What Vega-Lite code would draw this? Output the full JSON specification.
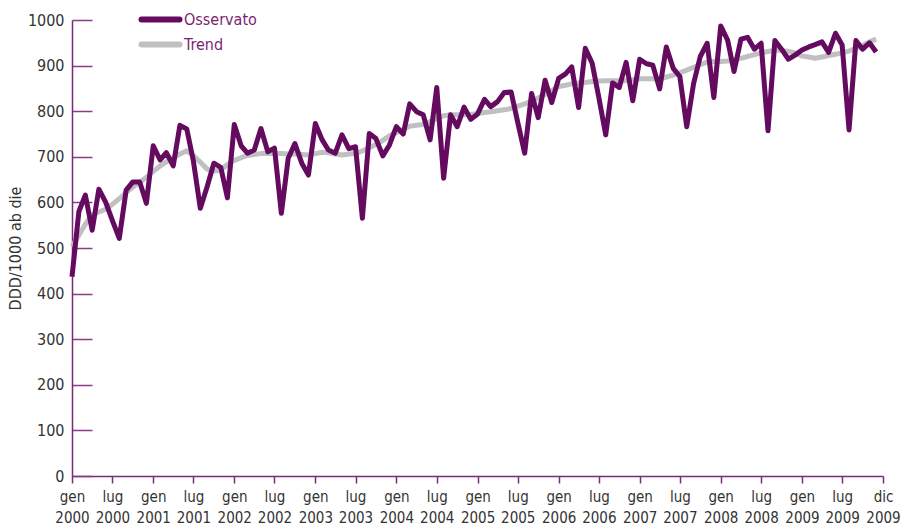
{
  "$schema": "https://vega.github.io/schema/vega-lite/v6.json",
  "autosize": {"type": "none"},
  "padding": {"left": 72, "top": 20, "right": 19, "bottom": 51},
  "width": 811,
  "height": 456,
  "background": "white",
  "config": {
    "view": {"stroke": null},
    "font": "DejaVu Sans Condensed"
  },
  "data": {
    "values": [
      {"mese": "2000-01", "Osservato": 437, "Trend": 503},
      {"mese": "2000-02", "Osservato": 580, "Trend": 528},
      {"mese": "2000-03", "Osservato": 616, "Trend": 552},
      {"mese": "2000-04", "Osservato": 539, "Trend": 573},
      {"mese": "2000-05", "Osservato": 629, "Trend": 579},
      {"mese": "2000-06", "Osservato": 600, "Trend": 585},
      {"mese": "2000-07", "Osservato": 560, "Trend": 596},
      {"mese": "2000-08", "Osservato": 521, "Trend": 608},
      {"mese": "2000-09", "Osservato": 627, "Trend": 622},
      {"mese": "2000-10", "Osservato": 645, "Trend": 633},
      {"mese": "2000-11", "Osservato": 645, "Trend": 644},
      {"mese": "2000-12", "Osservato": 598, "Trend": 655},
      {"mese": "2001-01", "Osservato": 724, "Trend": 668},
      {"mese": "2001-02", "Osservato": 693, "Trend": 680},
      {"mese": "2001-03", "Osservato": 709, "Trend": 689},
      {"mese": "2001-04", "Osservato": 680, "Trend": 698},
      {"mese": "2001-05", "Osservato": 769, "Trend": 706},
      {"mese": "2001-06", "Osservato": 761, "Trend": 713},
      {"mese": "2001-07", "Osservato": 690, "Trend": 703},
      {"mese": "2001-08", "Osservato": 587, "Trend": 688},
      {"mese": "2001-09", "Osservato": 635, "Trend": 673},
      {"mese": "2001-10", "Osservato": 686, "Trend": 669},
      {"mese": "2001-11", "Osservato": 677, "Trend": 671},
      {"mese": "2001-12", "Osservato": 610, "Trend": 683},
      {"mese": "2002-01", "Osservato": 771, "Trend": 692},
      {"mese": "2002-02", "Osservato": 724, "Trend": 698},
      {"mese": "2002-03", "Osservato": 708, "Trend": 703},
      {"mese": "2002-04", "Osservato": 715, "Trend": 705},
      {"mese": "2002-05", "Osservato": 762, "Trend": 707},
      {"mese": "2002-06", "Osservato": 711, "Trend": 708},
      {"mese": "2002-07", "Osservato": 719, "Trend": 707},
      {"mese": "2002-08", "Osservato": 576, "Trend": 707},
      {"mese": "2002-09", "Osservato": 697, "Trend": 706},
      {"mese": "2002-10", "Osservato": 729, "Trend": 706},
      {"mese": "2002-11", "Osservato": 686, "Trend": 705},
      {"mese": "2002-12", "Osservato": 660, "Trend": 704},
      {"mese": "2003-01", "Osservato": 773, "Trend": 707},
      {"mese": "2003-02", "Osservato": 737, "Trend": 710},
      {"mese": "2003-03", "Osservato": 715, "Trend": 709},
      {"mese": "2003-04", "Osservato": 708, "Trend": 706},
      {"mese": "2003-05", "Osservato": 748, "Trend": 704},
      {"mese": "2003-06", "Osservato": 718, "Trend": 706},
      {"mese": "2003-07", "Osservato": 722, "Trend": 707},
      {"mese": "2003-08", "Osservato": 565, "Trend": 713},
      {"mese": "2003-09", "Osservato": 751, "Trend": 720},
      {"mese": "2003-10", "Osservato": 740, "Trend": 727},
      {"mese": "2003-11", "Osservato": 702, "Trend": 736},
      {"mese": "2003-12", "Osservato": 726, "Trend": 746},
      {"mese": "2004-01", "Osservato": 766, "Trend": 753},
      {"mese": "2004-02", "Osservato": 750, "Trend": 760},
      {"mese": "2004-03", "Osservato": 816, "Trend": 767},
      {"mese": "2004-04", "Osservato": 799, "Trend": 769},
      {"mese": "2004-05", "Osservato": 792, "Trend": 771},
      {"mese": "2004-06", "Osservato": 737, "Trend": 777},
      {"mese": "2004-07", "Osservato": 852, "Trend": 783},
      {"mese": "2004-08", "Osservato": 653, "Trend": 790},
      {"mese": "2004-09", "Osservato": 792, "Trend": 792},
      {"mese": "2004-10", "Osservato": 766, "Trend": 792},
      {"mese": "2004-11", "Osservato": 809, "Trend": 792},
      {"mese": "2004-12", "Osservato": 782, "Trend": 793},
      {"mese": "2005-01", "Osservato": 794, "Trend": 795},
      {"mese": "2005-02", "Osservato": 826, "Trend": 797},
      {"mese": "2005-03", "Osservato": 810, "Trend": 799},
      {"mese": "2005-04", "Osservato": 821, "Trend": 801},
      {"mese": "2005-05", "Osservato": 841, "Trend": 803},
      {"mese": "2005-06", "Osservato": 842, "Trend": 806},
      {"mese": "2005-07", "Osservato": 775, "Trend": 811},
      {"mese": "2005-08", "Osservato": 708, "Trend": 816},
      {"mese": "2005-09", "Osservato": 839, "Trend": 823},
      {"mese": "2005-10", "Osservato": 786, "Trend": 829},
      {"mese": "2005-11", "Osservato": 868, "Trend": 837},
      {"mese": "2005-12", "Osservato": 819, "Trend": 845},
      {"mese": "2006-01", "Osservato": 872, "Trend": 854},
      {"mese": "2006-02", "Osservato": 882, "Trend": 857},
      {"mese": "2006-03", "Osservato": 897, "Trend": 860},
      {"mese": "2006-04", "Osservato": 808, "Trend": 862},
      {"mese": "2006-05", "Osservato": 938, "Trend": 863},
      {"mese": "2006-06", "Osservato": 905, "Trend": 865},
      {"mese": "2006-07", "Osservato": 830, "Trend": 866},
      {"mese": "2006-08", "Osservato": 748, "Trend": 867},
      {"mese": "2006-09", "Osservato": 862, "Trend": 867},
      {"mese": "2006-10", "Osservato": 852, "Trend": 867},
      {"mese": "2006-11", "Osservato": 907, "Trend": 867},
      {"mese": "2006-12", "Osservato": 823, "Trend": 869},
      {"mese": "2007-01", "Osservato": 914, "Trend": 871},
      {"mese": "2007-02", "Osservato": 904, "Trend": 871},
      {"mese": "2007-03", "Osservato": 901, "Trend": 871},
      {"mese": "2007-04", "Osservato": 849, "Trend": 871},
      {"mese": "2007-05", "Osservato": 941, "Trend": 875},
      {"mese": "2007-06", "Osservato": 894, "Trend": 879},
      {"mese": "2007-07", "Osservato": 876, "Trend": 884},
      {"mese": "2007-08", "Osservato": 766, "Trend": 890},
      {"mese": "2007-09", "Osservato": 861, "Trend": 896},
      {"mese": "2007-10", "Osservato": 920, "Trend": 902},
      {"mese": "2007-11", "Osservato": 949, "Trend": 908},
      {"mese": "2007-12", "Osservato": 830, "Trend": 909},
      {"mese": "2008-01", "Osservato": 987, "Trend": 909},
      {"mese": "2008-02", "Osservato": 956, "Trend": 910},
      {"mese": "2008-03", "Osservato": 887, "Trend": 913},
      {"mese": "2008-04", "Osservato": 958, "Trend": 916},
      {"mese": "2008-05", "Osservato": 962, "Trend": 920},
      {"mese": "2008-06", "Osservato": 936, "Trend": 924},
      {"mese": "2008-07", "Osservato": 949, "Trend": 928},
      {"mese": "2008-08", "Osservato": 757, "Trend": 931},
      {"mese": "2008-09", "Osservato": 955, "Trend": 934},
      {"mese": "2008-10", "Osservato": 936, "Trend": 933},
      {"mese": "2008-11", "Osservato": 914, "Trend": 931},
      {"mese": "2008-12", "Osservato": 923, "Trend": 928},
      {"mese": "2009-01", "Osservato": 934, "Trend": 921},
      {"mese": "2009-02", "Osservato": 941, "Trend": 919},
      {"mese": "2009-03", "Osservato": 946, "Trend": 916},
      {"mese": "2009-04", "Osservato": 952, "Trend": 919},
      {"mese": "2009-05", "Osservato": 929, "Trend": 922},
      {"mese": "2009-06", "Osservato": 971, "Trend": 925},
      {"mese": "2009-07", "Osservato": 945, "Trend": 928},
      {"mese": "2009-08", "Osservato": 759, "Trend": 932},
      {"mese": "2009-09", "Osservato": 955, "Trend": 938},
      {"mese": "2009-10", "Osservato": 936, "Trend": 944},
      {"mese": "2009-11", "Osservato": 950, "Trend": 952},
      {"mese": "2009-12", "Osservato": 930, "Trend": 958}
    ],
    "format": {"parse": {"mese": "utc:'%Y-%m'"}}
  },
  "transform": [
    {"fold": ["Osservato", "Trend"], "as": ["serie", "valore"]}
  ],
  "encoding": {
    "x": {
      "field": "mese",
      "type": "temporal",
      "scale": {
        "type": "utc",
        "domain": [
          {"year": 2000, "month": 1, "date": 1, "utc": true},
          {"year": 2010, "month": 1, "date": 1, "utc": true}
        ]
      },
      "axis": {
        "title": null,
        "values": [
          {"year": 2000, "month": 1, "date": 1, "utc": true},
          {"year": 2000, "month": 7, "date": 1, "utc": true},
          {"year": 2001, "month": 1, "date": 1, "utc": true},
          {"year": 2001, "month": 7, "date": 1, "utc": true},
          {"year": 2002, "month": 1, "date": 1, "utc": true},
          {"year": 2002, "month": 7, "date": 1, "utc": true},
          {"year": 2003, "month": 1, "date": 1, "utc": true},
          {"year": 2003, "month": 7, "date": 1, "utc": true},
          {"year": 2004, "month": 1, "date": 1, "utc": true},
          {"year": 2004, "month": 7, "date": 1, "utc": true},
          {"year": 2005, "month": 1, "date": 1, "utc": true},
          {"year": 2005, "month": 7, "date": 1, "utc": true},
          {"year": 2006, "month": 1, "date": 1, "utc": true},
          {"year": 2006, "month": 7, "date": 1, "utc": true},
          {"year": 2007, "month": 1, "date": 1, "utc": true},
          {"year": 2007, "month": 7, "date": 1, "utc": true},
          {"year": 2008, "month": 1, "date": 1, "utc": true},
          {"year": 2008, "month": 7, "date": 1, "utc": true},
          {"year": 2009, "month": 1, "date": 1, "utc": true},
          {"year": 2009, "month": 7, "date": 1, "utc": true},
          {"year": 2010, "month": 1, "date": 1, "utc": true}
        ],
        "labelExpr": "utcyear(datum.value) == 2010 ? ['dic', '2009'] : [utcmonth(datum.value) == 0 ? 'gen' : 'lug', '' + utcyear(datum.value)]",
        "grid": false,
        "domainColor": "#7a2a7a",
        "domainWidth": 1.5,
        "tickColor": "#7a2a7a",
        "tickWidth": 1.5,
        "tickSize": 7,
        "labelFont": "DejaVu Sans Condensed",
        "labelFontSize": 15,
        "labelColor": "#333333",
        "labelPadding": 6,
        "labelLineHeight": 21,
        "labelAngle": 0,
        "labelAlign": "center",
        "labelFlush": false,
        "labelOverlap": false
      }
    },
    "y": {
      "field": "valore",
      "type": "quantitative",
      "scale": {"domain": [0, 1000], "nice": false},
      "axis": {
        "title": "DDD/1000 ab die",
        "titleFont": "DejaVu Sans Condensed",
        "titleFontSize": 16,
        "titleFontWeight": "normal",
        "titleColor": "#333333",
        "titlePadding": 4,
        "values": [0, 100, 200, 300, 400, 500, 600, 700, 800, 900, 1000],
        "format": "d",
        "grid": false,
        "domainColor": "#7a2a7a",
        "domainWidth": 1.5,
        "tickColor": "#8a3a8a",
        "tickWidth": 1.5,
        "tickSize": -20,
        "labelFont": "DejaVu Sans Condensed",
        "labelFontSize": 16,
        "labelColor": "#333333",
        "labelPadding": 28
      }
    },
    "color": {
      "field": "serie",
      "type": "nominal",
      "scale": {"domain": ["Osservato", "Trend"], "range": ["#640a5f", "#c0c0c3"]},
      "legend": {
        "title": null,
        "orient": "none",
        "legendX": 76,
        "legendY": -13,
        "symbolType": "M-2,0H2",
        "symbolSize": 361,
        "symbolStrokeWidth": 6,
        "labelFont": "DejaVu Sans Condensed",
        "labelFontSize": 16,
        "labelColor": "#7a1f72",
        "labelOffset": 11,
        "rowPadding": -2,
        "encode": {"symbols": {"update": {"strokeCap": {"value": "round"}}}}
      }
    }
  },
  "layer": [
    {
      "transform": [{"filter": "datum.serie == 'Trend'"}],
      "mark": {"type": "line", "strokeWidth": 5, "strokeJoin": "round"}
    },
    {
      "transform": [{"filter": "datum.serie == 'Osservato'"}],
      "mark": {"type": "line", "strokeWidth": 5, "strokeJoin": "round"}
    }
  ]
}
